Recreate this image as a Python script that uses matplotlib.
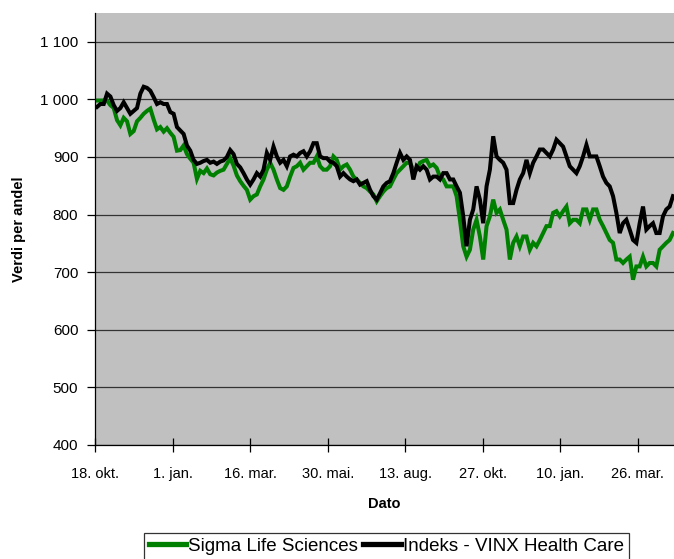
import numpy as np
import pandas as pd
import matplotlib
matplotlib.use("Agg")
import matplotlib.pyplot as plt
from matplotlib.ticker import FuncFormatter

plt.rcParams['font.family'] = ['Liberation Sans', 'DejaVu Sans']

# verdi per andel, lest av bildet (ca. hver 3. dag)
sigma = [998, 998, 998, 998, 990, 985, 964, 955, 968, 962,
         940, 945, 962, 968, 975, 980, 984, 965, 948, 952,
         944, 950, 942, 935, 911, 912, 920, 905, 897, 890,
         862, 876, 872, 880, 870, 868, 873, 876, 878, 888,
         898, 885, 868, 858, 850,
         843, 826, 832, 835, 849, 861, 878, 890, 878, 861,
         846, 843, 849, 866, 881, 884, 890, 878, 884, 890,
         890, 901, 884, 878, 878, 884, 901, 895, 878, 884,
         887, 878, 866, 861, 855, 849, 846, 840, 835, 823,
         832, 840, 846, 849,
         861, 872, 878, 884, 890, 890, 878, 878, 890, 893,
         895, 884, 887, 881, 866, 861, 849, 849, 849, 832,
         791, 745, 727, 739, 774, 791, 762, 722, 780, 797,
         826, 803, 809, 791, 774, 722, 751, 762, 745, 762,
         762, 739, 751, 745,
         756, 768, 780, 780, 803, 806, 797, 806, 814, 785,
         791, 791, 785, 809, 809, 791, 809, 809, 791, 780,
         768, 756, 751, 722, 722, 716, 722, 727, 687, 710,
         710, 727, 710, 716, 716, 710, 739, 745, 751, 756,
         768]

vinx = [987, 992, 992, 1010, 1005, 990, 980, 985, 995, 985,
        975, 980, 985, 1010, 1022, 1020, 1015, 1004, 992, 995,
        992, 992, 978, 975, 952, 946, 940, 920, 911, 895,
        888, 890, 893, 895, 890, 892, 888, 892, 894, 900,
        912, 905, 888, 882, 872,
        861, 852, 861, 872, 866, 878, 907, 895, 918, 901,
        890, 895, 884, 901, 904, 901, 907, 910, 901, 910,
        924, 924, 901, 898, 898, 892, 890, 884, 866, 872,
        866, 861, 858, 861, 852, 855, 858, 843, 832, 826,
        837, 849, 855, 858,
        872, 890, 907, 895, 901, 895, 861, 884, 878, 884,
        878, 861, 866, 866, 861, 872, 872, 861, 861, 849,
        838, 797, 745, 791, 809, 849, 826, 785, 849, 878,
        936, 901, 895, 890, 878, 820, 820, 843, 861, 872,
        895, 872, 890, 901,
        913, 913, 907, 901, 913, 930, 924, 918, 901, 884,
        878, 872, 884, 901, 921, 901, 901, 901, 884, 866,
        855, 849, 832, 803, 768, 785, 791, 774, 756, 751,
        785, 814, 774, 780, 785, 768, 768, 797, 809, 814,
        832]

dates = pd.date_range("2007-10-20", "2009-04-29", periods=len(sigma))

tick_dates = pd.to_datetime(["2007-10-18", "2008-01-01", "2008-03-16", "2008-05-30",
                             "2008-08-13", "2008-10-27", "2009-01-10", "2009-03-26"])
tick_labels = ["18. okt.", "1. jan.", "16. mar.", "30. mai.",
               "13. aug.", "27. okt.", "10. jan.", "26. mar."]

fig = plt.figure(figsize=(6.74, 5.59), dpi=100)
ax = fig.add_axes([95/674, 1-445/559, 579/674, 432/559])
ax.set_facecolor('#C0C0C0')

ax.plot(dates, sigma, color='#008000', lw=2.9, label='Sigma Life Sciences', solid_joinstyle='miter')
ax.plot(dates, vinx, color='black', lw=2.9, label='Indeks - VINX Health Care', solid_joinstyle='miter')

ax.set_ylim(400, 1150)
ax.set_yticks(range(400, 1101, 100))
ax.yaxis.set_major_formatter(FuncFormatter(lambda v, p: f"{v:,.0f}".replace(",", " ")))
ax.set_xlim(pd.Timestamp("2007-10-18"), pd.Timestamp("2009-04-30"))
ax.set_xticks(tick_dates)
ax.set_xticklabels(tick_labels)

ax.grid(axis='y', color='#333333', lw=0.9)
ax.set_axisbelow(True)
for s in ['top', 'right']:
    ax.spines[s].set_visible(False)
for s in ['left', 'bottom']:
    ax.spines[s].set_color('black')
    ax.spines[s].set_linewidth(0.9)

ax.tick_params(axis='y', direction='out', length=6, width=0.9, pad=6, labelsize=11)
ax.tick_params(axis='x', direction='inout', length=10, width=0.9, pad=11, labelsize=10.5)

ax.set_ylabel('Verdi per andel', fontsize=10.5, fontweight='bold')
ax.yaxis.set_label_coords(-0.119, 0.5)
ax.set_xlabel('Dato', fontsize=10.5, fontweight='bold', va='top')
ax.xaxis.set_label_coords(0.5, -0.12)

leg = fig.legend(loc='upper center', bbox_to_anchor=(0.573, 1-533/559), ncol=2,
                 fontsize=13.5, frameon=True, fancybox=False, edgecolor='black',
                 handlelength=2.0, handletextpad=0.1, columnspacing=0.3,
                 borderpad=0.25, borderaxespad=0)
leg.get_frame().set_linewidth(0.9)
for h in leg.get_lines():
    h.set_linewidth(3.8)

fig.savefig('out.png', dpi=100)
